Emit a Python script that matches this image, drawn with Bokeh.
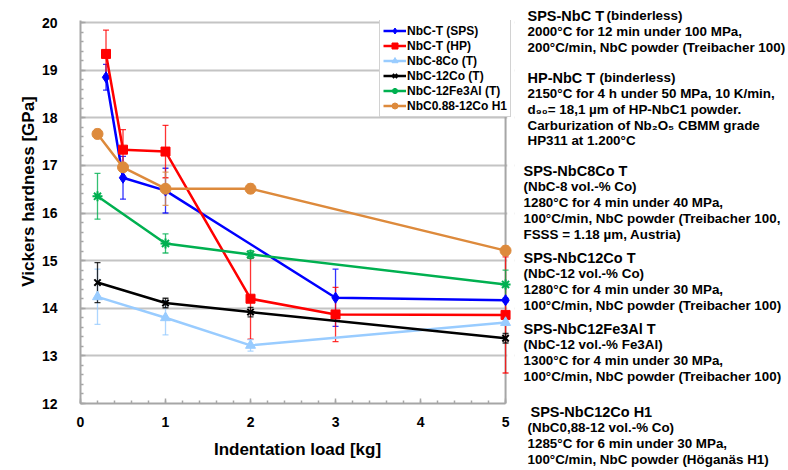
import math
from bokeh.plotting import figure
from bokeh.layouts import row
from bokeh.models import (Range1d, SingleIntervalTicker, Legend, LegendItem,
                          Span, BoxAnnotation, ColumnDataSource)
from bokeh.core.properties import value
from bokeh.embed import file_html
from bokeh.resources import INLINE

# ---------------- data ----------------
sps_x = [0.3, 0.5, 1, 3, 5]
sps_y = [18.85, 16.74, 16.47, 14.22, 14.17]
sps_err = [0.27, 0.45, 0.47, 0.6, 0.04]

hp_x = [0.3, 0.5, 1, 2, 3, 5]
hp_y = [19.34, 17.33, 17.29, 14.2, 13.87, 13.86]
hp_err = [0.5, 0.42, 0.55, 0.85, 0.57, 1.22]

co8_x = [0.2, 1, 2, 5]
co8_y = [14.24, 13.8, 13.22, 13.7]
co8_err = [0.58, 0.36, 0.12, 0.05]

co12_x = [0.2, 1, 2, 5]
co12_y = [14.54, 14.11, 13.92, 13.37]
co12_err = [0.42, 0.1, 0.1, 0.1]

fe_x = [0.2, 1, 2, 5]
fe_y = [16.35, 15.36, 15.13, 14.5]
fe_err = [0.48, 0.2, 0.08, 0.3]

h1_x = [0.2, 0.5, 1, 2, 5]
h1_y = [17.66, 16.96, 16.51, 16.51, 15.21]
h1_err = [0.1, 0.08, 0.35, 0.1, 0.1]

series_names = ["NbC-T (SPS)", "NbC-T (HP)", "NbC-8Co (T)", "NbC-12Co (T)",
                "NbC-12Fe3Al (T)", "NbC0.88-12Co H1"]

x_ticks = [0, 1, 2, 3, 4, 5]
y_ticks = [12, 13, 14, 15, 16, 17, 18, 19, 20]

x_title = "Indentation load [kg]"
y_title = "Vickers hardness [GPa]"

note_titles = [
    (527, 15, "SPS-NbC T"),
    (527, 77, "HP-NbC T"),
    (523, 170, "SPS-NbC8Co T"),
    (523, 257, "SPS-NbC12Co T"),
    (523, 328, "SPS-NbC12Fe3Al T"),
    (530, 411, "SPS-NbC12Co H1"),
]
note_lines = [
    (606, 15, "(binderless)"),
    (527, 31, "2000°C for 12 min under 100 MPa,"),
    (527, 47, "200°C/min, NbC powder (Treibacher 100)"),
    (599, 77, "(binderless)"),
    (527, 93, "2150°C for 4 h under  50 MPa, 10 K/min,"),
    (527, 109, "d₉₀= 18,1 µm of HP-NbC1 powder."),
    (527, 125, "Carburization of  Nb₂O₅ CBMM grade"),
    (527, 140, "HP311 at 1.200°C"),
    (523, 186, "(NbC-8 vol.-% Co)"),
    (523, 202, "1280°C for 4 min under 40 MPa,"),
    (523, 218, "100°C/min, NbC powder (Treibacher 100,"),
    (523, 234, "FSSS = 1.18 µm, Austria)"),
    (523, 273, "(NbC-12 vol.-% Co)"),
    (523, 289, "1280°C for 4 min under 30 MPa,"),
    (523, 305, "100°C/min, NbC powder (Treibacher 100)"),
    (523, 344, "(NbC-12 vol.-% Fe3Al)"),
    (523, 360, "1300°C for 4 min under 30 MPa,"),
    (523, 376, "100°C/min, NbC powder (Treibacher 100)"),
    (527, 427, "(NbC0,88-12 vol.-% Co)"),
    (527, 443, "1285°C for 6 min under 30 MPa,"),
    (527, 459, "100°C/min, NbC powder (Höganäs H1)"),
]

# ---------------- layout constants ----------------
FONT = "Liberation Sans"
H = 470
STRIP_W = 38
MAIN_W = 520 - STRIP_W
NOTES_W = 268
LEFT, TOP, BOTTOM = 77 - STRIP_W, 20, 67
PX_X = 428 / 5.0
PX_Y = 381 / 8.0
FRAME_W = 437
FRAME_H = H - TOP - BOTTOM
RIGHT = MAIN_W - LEFT - FRAME_W
grey = "#a6a6a6"


def blank(width):
    f = figure(width=width, height=H, output_backend="svg", toolbar_location=None,
               title=None, x_range=Range1d(0, width), y_range=Range1d(H, 0),
               x_axis_location=None, y_axis_location=None,
               min_border_left=0, min_border_right=0, min_border_top=0,
               min_border_bottom=0)
    f.grid.visible = False
    f.outline_line_color = None
    f.background_fill_color = "white"
    f.border_fill_color = "white"
    try:
        f.frame_align = False
    except Exception:
        pass
    return f


# ---------------- y title strip ----------------
strip = blank(STRIP_W)
strip.text(x=[27.5], y=[191], text=[y_title], angle=math.pi / 2,
           text_align="center", text_baseline="middle",
           text_font=value(FONT), text_font_style="bold", text_font_size="17px",
           text_color="black")

# ---------------- main plot ----------------
p = figure(width=MAIN_W, height=H, output_backend="svg", toolbar_location=None,
           x_range=Range1d(0, FRAME_W / PX_X), y_range=Range1d(12, 12 + FRAME_H / PX_Y),
           min_border_left=LEFT, min_border_right=RIGHT, min_border_top=TOP,
           min_border_bottom=BOTTOM)
p.outline_line_color = None
p.background_fill_color = "white"
p.border_fill_color = "white"
try:
    p.frame_align = False
except Exception:
    pass

for ax in (p.xaxis[0], p.yaxis[0]):
    ax.axis_line_color = grey
    ax.axis_line_width = 2
    ax.major_tick_line_color = grey
    ax.minor_tick_line_color = grey
    ax.major_tick_line_width = 1.5
    ax.minor_tick_line_width = 1.5
    ax.major_tick_in = 5
    ax.major_tick_out = 0
    ax.minor_tick_in = 3
    ax.minor_tick_out = 0
    ax.major_label_text_font = FONT
    ax.major_label_text_font_style = "bold"
    ax.major_label_text_font_size = "14px"
    ax.major_label_text_color = "black"

p.xaxis.ticker = SingleIntervalTicker(interval=1, num_minor_ticks=5)
p.yaxis.ticker = SingleIntervalTicker(interval=1, num_minor_ticks=5)
p.xaxis.bounds = (x_ticks[0], x_ticks[-1])
p.xaxis.major_label_standoff = 13
p.yaxis.major_label_standoff = 23
p.xaxis.axis_label = x_title
p.xaxis.axis_label_text_font = FONT
p.xaxis.axis_label_text_font_style = "bold"
p.xaxis.axis_label_text_font_size = "17px"
p.xaxis.axis_label_text_color = "black"
p.xaxis.axis_label_standoff = 10

p.xgrid.visible = False
p.ygrid.grid_line_color = "#c4c4c4"
p.ygrid.grid_line_width = 2
p.ygrid.ticker = SingleIntervalTicker(interval=1)

# cover grid overhang to the right of x=5, then draw the right frame border
p.add_layout(BoxAnnotation(left=x_ticks[-1] + 0.02, fill_color="white", fill_alpha=1,
                           line_color=None, level="underlay"))
p.add_layout(Span(location=x_ticks[-1], dimension="height", line_color=grey,
                  line_width=2, level="underlay"))

specs = [
    (sps_x, sps_y, sps_err, "#0000ff", "diamond", 11),
    (hp_x, hp_y, hp_err, "#ff0000", "square", 9),
    (co8_x, co8_y, co8_err, "#99ccff", "triangle", 10),
    (co12_x, co12_y, co12_err, "#000000", "x", 9),
    (fe_x, fe_y, fe_err, "#00b050", "asterisk", 10),
    (h1_x, h1_y, h1_err, "#dd8a3c", "circle", 11),
]

# error bars first
for xs, ys, es, col, mk, sz in specs:
    lo = [y - e for y, e in zip(ys, es)]
    hi = [y + e for y, e in zip(ys, es)]
    p.segment(x0=xs, y0=lo, x1=xs, y1=hi, line_color=col, line_width=1.3, line_alpha=0.8)
    p.scatter(x=xs + xs, y=lo + hi, marker="dash", size=6, line_color=col,
              line_width=1.3, line_alpha=0.8)

items = []
for (xs, ys, es, col, mk, sz), name in zip(specs, series_names):
    src = ColumnDataSource(dict(x=xs, y=ys))
    ln = p.line("x", "y", source=src, line_color=col, line_width=2.5)
    if mk in ("x", "asterisk"):
        sc = p.scatter("x", "y", source=src, marker=mk, size=sz, line_color=col,
                       line_width=2)
    else:
        sc = p.scatter("x", "y", source=src, marker=mk, size=sz, fill_color=col,
                       line_color=col)
    items.append(LegendItem(label=name, renderers=[ln, sc]))

legend = Legend(items=items, location=(376 - 77, 403 - 117), padding=3, spacing=0,
                margin=0, glyph_width=23, glyph_height=15, label_height=15,
                label_standoff=1, label_text_font=FONT, label_text_font_style="bold",
                label_text_font_size="12px", label_text_color="black",
                border_line_color=grey, border_line_width=1.5,
                background_fill_color="white", background_fill_alpha=1)
p.add_layout(legend)

# ---------------- notes panel ----------------
notes = blank(NOTES_W)
notes.text(x=[t[0] - 520 for t in note_titles], y=[t[1] for t in note_titles],
           text=[t[2] for t in note_titles], text_align="left", text_baseline="middle",
           text_font=value(FONT), text_font_style="bold", text_font_size="14.5px",
           text_color="black")
notes.text(x=[t[0] - 520 for t in note_lines], y=[t[1] for t in note_lines],
           text=[t[2] for t in note_lines], text_align="left", text_baseline="middle",
           text_font=value(FONT), text_font_style="bold", text_font_size="13.4px",
           text_color="black")

layout = row(strip, p, notes, spacing=0)
open("out.html", "w").write(file_html(layout, INLINE))
